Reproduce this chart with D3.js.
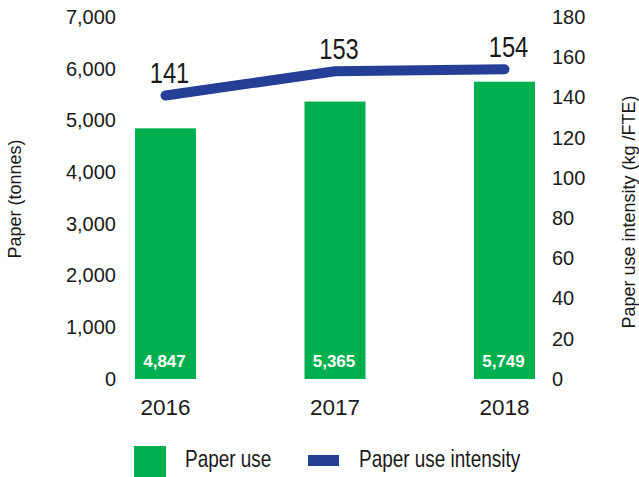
<!DOCTYPE html>
<html>
<head>
<meta charset="utf-8">
<script src="https://cdn.jsdelivr.net/npm/d3@7"></script>
<style>
  body { margin: 0; background: #fff; }
  svg { display: block; font-family: "Liberation Sans", Arial, sans-serif; }
</style>
</head>
<body>
<svg id="chart" width="639" height="477"></svg>
<script>
const years = ["2016", "2017", "2018"];
const paperUse = [4847, 5365, 5749];
const intensity = [141, 153, 154];
const leftTicks = [0, 1000, 2000, 3000, 4000, 5000, 6000, 7000];
const rightTicks = [0, 20, 40, 60, 80, 100, 120, 140, 160, 180];

const green = "#00b04f";
const blue = "#243f95";
const ink = "#1a1a1a";

const svg = d3.select("#chart");
const barWidth = 61;
// no condensed font installed, so squeeze the wide one horizontally
const squeeze = 0.79;

const x = d3.scalePoint().domain(years).range([165.5, 504.5]);
const yLeft = d3.scaleLinear().domain([0, 7000]).range([379, 17]);
const yRight = d3.scaleLinear().domain([0, 180]).range([379, 17]);

// left axis
const leftAxis = svg.append("g")
  .attr("transform", "translate(116,0)")
  .call(d3.axisLeft(yLeft).tickValues(leftTicks).tickSize(0).tickPadding(0).tickFormat(d3.format(",")));
leftAxis.select(".domain").remove();
leftAxis.selectAll("text")
  .attr("font-size", 20)
  .attr("font-family", null)
  .attr("fill", ink);

// right axis
const rightAxis = svg.append("g")
  .attr("transform", "translate(552,0)")
  .call(d3.axisRight(yRight).tickValues(rightTicks).tickSize(0).tickPadding(0));
rightAxis.select(".domain").remove();
rightAxis.selectAll("text")
  .attr("font-size", 20)
  .attr("font-family", null)
  .attr("fill", ink);

// bars
svg.append("g").selectAll("rect")
  .data(years)
  .join("rect")
  .attr("x", (d) => x(d) - barWidth / 2)
  .attr("width", barWidth)
  .attr("y", (d, i) => yLeft(paperUse[i]))
  .attr("height", (d, i) => yLeft(0) - yLeft(paperUse[i]))
  .attr("fill", green);

svg.append("g").selectAll("text")
  .data(years)
  .join("text")
  .attr("x", (d) => x(d) - 1)
  .attr("y", 367)
  .attr("text-anchor", "middle")
  .attr("font-size", 17)
  .attr("font-weight", "bold")
  .attr("fill", "#fff")
  .text((d, i) => d3.format(",")(paperUse[i]));

// year labels
svg.append("g").selectAll("text")
  .data(years)
  .join("text")
  .attr("x", (d) => x(d))
  .attr("y", 415)
  .attr("text-anchor", "middle")
  .attr("font-size", 22.5)
  .attr("fill", ink)
  .text((d) => d);

// intensity line
const line = d3.line()
  .x((d, i) => x(years[i]))
  .y((d) => yRight(d));

svg.append("path")
  .datum(intensity)
  .attr("d", line)
  .attr("fill", "none")
  .attr("stroke", blue)
  .attr("stroke-width", 10)
  .attr("stroke-linecap", "round")
  .attr("stroke-linejoin", "round");

svg.append("g").selectAll("text")
  .data(intensity)
  .join("text")
  .attr("transform", (d, i) => `translate(${x(years[i]) + 4},${yRight(d) - 12}) scale(${squeeze},1)`)
  .attr("text-anchor", "middle")
  .attr("font-size", 30)
  .attr("fill", ink)
  .text((d) => d);

// axis titles
svg.append("text")
  .attr("transform", "translate(21,199) rotate(-90)")
  .attr("text-anchor", "middle")
  .attr("font-size", 18)
  .attr("fill", ink)
  .text("Paper (tonnes)");

svg.append("text")
  .attr("transform", "translate(635,212) rotate(-90)")
  .attr("text-anchor", "middle")
  .attr("font-size", 18)
  .attr("fill", ink)
  .text("Paper use intensity (kg /FTE)");

// legend
const legendItems = [
  { label: "Paper use", x: 134, y: 446, w: 32, h: 32, color: green },
  { label: "Paper use intensity", x: 308, y: 455, w: 31, h: 11, color: blue }
];

const legend = svg.append("g").selectAll("g")
  .data(legendItems)
  .join("g");

legend.append("rect")
  .attr("x", (d) => d.x)
  .attr("y", (d) => d.y)
  .attr("width", (d) => d.w)
  .attr("height", (d) => d.h)
  .attr("fill", (d) => d.color);

legend.append("text")
  .attr("transform", (d) => `translate(${d.x + 51},467) scale(${squeeze},1)`)
  .attr("font-size", 24)
  .attr("fill", ink)
  .text((d) => d.label);
</script>
</body>
</html>
